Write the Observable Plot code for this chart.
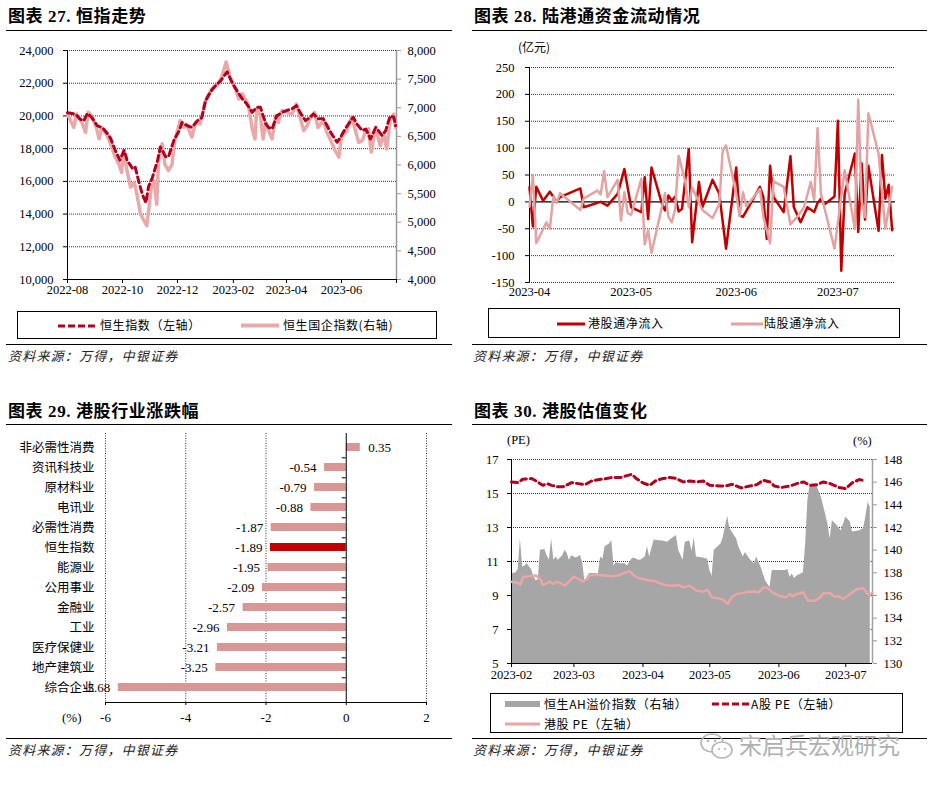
<!DOCTYPE html>
<html><head><meta charset="utf-8">
<script src="https://cdn.jsdelivr.net/npm/d3@7"></script>
<script src="https://cdn.jsdelivr.net/npm/@observablehq/plot@0.6"></script>
<style>
body{margin:0;background:#fff;}
#root{position:relative;width:930px;height:788px;overflow:hidden;font-family:'Liberation Serif','Noto Sans CJK SC',serif;color:#000;}
.title{position:absolute;font-size:17px;font-weight:bold;line-height:24px;white-space:nowrap;letter-spacing:0.6px;}
.rule{position:absolute;height:0;border-top:1.5px solid #000;}
.src{position:absolute;font-size:13px;font-style:italic;font-family:'Noto Sans CJK SC',sans-serif;color:#222;white-space:nowrap;letter-spacing:1.2px;line-height:16px;}
.plot{position:absolute;}
.legend{position:absolute;border:1px solid #000;box-sizing:border-box;}
.li{position:absolute;font-family:'Noto Sans CJK SC',sans-serif;font-size:12px;line-height:16px;white-space:nowrap;letter-spacing:0.6px;}
.sw{position:absolute;overflow:visible;}
.unit{position:absolute;font-size:12.5px;white-space:nowrap;line-height:14px;}
</style></head>
<body>
<div id="root">
  <div class="title" style="left:8px;top:5px;">图表 27. 恒指走势</div>
  <div class="title" style="left:474px;top:5px;">图表 28. 陆港通资金流动情况</div>
  <div class="title" style="left:8px;top:400px;">图表 29. 港股行业涨跌幅</div>
  <div class="title" style="left:474px;top:400px;">图表 30. 港股估值变化</div>
  <div class="rule" style="left:6px;top:30px;width:446px;"></div>
  <div class="rule" style="left:472px;top:30px;width:455px;"></div>
  <div class="rule" style="left:6px;top:424px;width:446px;"></div>
  <div class="rule" style="left:472px;top:424px;width:455px;"></div>
  <div class="rule" style="left:6px;top:344px;width:446px;"></div>
  <div class="rule" style="left:472px;top:344px;width:455px;"></div>
  <div class="rule" style="left:6px;top:738px;width:446px;"></div>
  <div class="rule" style="left:472px;top:738px;width:455px;"></div>
  <div class="src" style="left:8px;top:348px;">资料来源：万得，中银证券</div>
  <div class="src" style="left:473px;top:348px;">资料来源：万得，中银证券</div>
  <div class="src" style="left:8px;top:742px;">资料来源：万得，中银证券</div>
  <div class="src" style="left:473px;top:742px;">资料来源：万得，中银证券</div>

  <div class="unit" style="left:518px;top:40px;font-family:'Noto Sans CJK SC';font-size:12px;">(亿元)</div>
  <div class="unit" style="left:507px;top:433px;">(PE)</div>
  <div class="unit" style="left:853px;top:434px;">(%)</div>
  <div class="unit" style="left:62px;top:711px;font-size:13px;">(%)</div>

  <div id="p1" class="plot" style="left:0px;top:40px;"></div>
  <div id="p2" class="plot" style="left:465px;top:40px;"></div>
  <div id="p3" class="plot" style="left:0px;top:428px;"></div>
  <div id="p4" class="plot" style="left:465px;top:428px;"></div>

  <div class="legend" style="left:17px;top:311px;width:420px;height:28px;">
    <svg class="sw" style="left:40px;top:12px;" width="40" height="4"><line x1="0" y1="2" x2="40" y2="2" stroke="#b0001e" stroke-width="3" stroke-dasharray="7,3"/></svg>
    <div class="li" style="left:82px;top:5px;">恒生指数（左轴）</div>
    <svg class="sw" style="left:223px;top:11px;" width="38" height="5"><line x1="0" y1="2.5" x2="38" y2="2.5" stroke="#eaa9a9" stroke-width="4"/></svg>
    <div class="li" style="left:265px;top:5px;">恒生国企指数(右轴)</div>
  </div>

  <div class="legend" style="left:488px;top:308px;width:412px;height:30px;">
    <svg class="sw" style="left:68px;top:13px;" width="28" height="4"><line x1="0" y1="2" x2="28" y2="2" stroke="#c00000" stroke-width="3"/></svg>
    <div class="li" style="left:99px;top:6px;">港股通净流入</div>
    <svg class="sw" style="left:242px;top:13px;" width="32" height="4"><line x1="0" y1="2" x2="32" y2="2" stroke="#e3a3a3" stroke-width="3"/></svg>
    <div class="li" style="left:275px;top:6px;">陆股通净流入</div>
  </div>

  <div class="legend" style="left:490px;top:693px;width:413px;height:40px;">
    <svg class="sw" style="left:14px;top:7px;" width="35" height="6"><rect x="0" y="0" width="35" height="6" fill="#a6a6a6"/></svg>
    <div class="li" style="left:53px;top:2px;">恒生AH溢价指数（右轴）</div>
    <svg class="sw" style="left:221px;top:8px;" width="37" height="4"><line x1="0" y1="2" x2="37" y2="2" stroke="#b0001e" stroke-width="3" stroke-dasharray="7,3"/></svg>
    <div class="li" style="left:260px;top:2px;">A股 PE（左轴）</div>
    <svg class="sw" style="left:14px;top:28px;" width="35" height="4"><line x1="0" y1="2" x2="35" y2="2" stroke="#eaa5a5" stroke-width="3"/></svg>
    <div class="li" style="left:53px;top:22px;">港股 PE（左轴）</div>
  </div>

  <svg style="position:absolute;left:699px;top:731px;" width="36" height="30">
    <ellipse cx="13" cy="12" rx="11" ry="9" fill="none" stroke="#b5b5b5" stroke-width="1.6"/>
    <ellipse cx="23" cy="19" rx="10" ry="8" fill="#fff" stroke="#b5b5b5" stroke-width="1.6"/>
    <circle cx="9" cy="10" r="1.3" fill="#b5b5b5"/><circle cx="16" cy="10" r="1.3" fill="#b5b5b5"/>
    <circle cx="20" cy="18" r="1.1" fill="#b5b5b5"/><circle cx="26" cy="18" r="1.1" fill="#b5b5b5"/>
  </svg>
  <div style="position:absolute;left:739px;top:729px;font-family:'Noto Sans CJK SC';font-size:23px;color:#b0b0b0;white-space:nowrap;line-height:30px;">宋启兵宏观研究</div>
</div>

<script>
// ---------------- DATA ----------------
// Panel 27: 恒生指数 (left axis) and 恒生国企指数 (right axis)
const hsiDates = ["2022-08-01","2022-08-10","2022-08-15","2022-08-19","2022-08-23","2022-08-28","2022-09-03","2022-09-07","2022-09-10","2022-09-16","2022-09-18","2022-09-23","2022-09-28","2022-10-03","2022-10-06","2022-10-12","2022-10-15","2022-10-19","2022-10-23","2022-10-27","2022-10-30","2022-11-03","2022-11-09","2022-11-12","2022-11-18","2022-11-21","2022-11-27","2022-12-03","2022-12-06","2022-12-12","2022-12-17","2022-12-23","2022-12-28","2023-01-01","2023-01-07","2023-01-12","2023-01-18","2023-01-25","2023-01-31","2023-02-06","2023-02-11","2023-02-16","2023-02-22","2023-02-27","2023-03-03","2023-03-09","2023-03-12","2023-03-16","2023-03-21","2023-03-27","2023-04-01","2023-04-07","2023-04-12","2023-04-16","2023-04-22","2023-04-27","2023-05-01","2023-05-06","2023-05-12","2023-05-15","2023-05-21","2023-05-27","2023-05-31","2023-06-05","2023-06-10","2023-06-14","2023-06-18","2023-06-24","2023-06-28","2023-07-03","2023-07-09","2023-07-12","2023-07-16","2023-07-20","2023-07-25","2023-07-29","2023-07-31"];
const hsiValues = [20200,20100,19800,19700,20150,19900,19400,19300,19200,18800,18600,17900,17300,17900,17300,16800,16900,16000,15200,14700,15700,16200,17300,18100,17500,17500,18500,19100,19600,19400,19300,19700,19900,20900,21500,21850,22150,22700,22000,21450,21040,20730,20220,20530,20530,19510,19300,19200,20000,20220,20330,20430,20630,20220,19710,19920,20120,19820,19820,19510,18900,18390,18700,19200,19610,19920,19510,19100,19200,18590,19300,19100,18800,19100,20000,19920,19400];
const hsceiDates = ["2022-08-01","2022-08-08","2022-08-11","2022-08-17","2022-08-21","2022-08-24","2022-08-28","2022-09-02","2022-09-05","2022-09-08","2022-09-14","2022-09-19","2022-09-23","2022-09-27","2022-09-30","2022-10-02","2022-10-06","2022-10-10","2022-10-14","2022-10-17","2022-10-21","2022-10-25","2022-10-28","2022-10-30","2022-11-02","2022-11-05","2022-11-08","2022-11-10","2022-11-14","2022-11-17","2022-11-21","2022-11-25","2022-11-28","2022-12-04","2022-12-08","2022-12-11","2022-12-17","2022-12-21","2022-12-26","2023-01-01","2023-01-08","2023-01-14","2023-01-19","2023-01-24","2023-01-29","2023-02-04","2023-02-07","2023-02-11","2023-02-15","2023-02-18","2023-02-22","2023-02-25","2023-02-27","2023-03-03","2023-03-06","2023-03-09","2023-03-12","2023-03-16","2023-03-20","2023-03-23","2023-03-27","2023-04-01","2023-04-07","2023-04-12","2023-04-16","2023-04-20","2023-04-24","2023-04-27","2023-05-02","2023-05-06","2023-05-12","2023-05-15","2023-05-21","2023-05-25","2023-05-29","2023-06-01","2023-06-07","2023-06-12","2023-06-16","2023-06-20","2023-06-24","2023-06-28","2023-07-01","2023-07-04","2023-07-07","2023-07-10","2023-07-14","2023-07-18","2023-07-21","2023-07-25","2023-07-29","2023-07-31"];
const hsceiValues = [6890,6655,6890,6745,6570,6920,6855,6655,6455,6655,6515,6315,6135,6015,5870,6250,5900,5610,5695,5490,5145,5025,4940,5200,5610,5725,5315,6075,6370,6015,5900,6015,6425,6775,6655,6715,6485,6745,6715,7125,7330,7390,7535,7800,7505,7300,7155,7245,7125,7010,6630,6455,6980,6865,6455,6745,6600,6455,6865,6745,6950,6920,6890,7065,6835,6600,6690,6805,6920,6655,6775,6600,6395,6250,6135,6485,6600,6835,6630,6395,6425,6600,6630,6225,6515,6570,6335,6545,6280,6775,6890,6655];
const p1TickLabels = ["2022-08","2022-10","2022-12","2023-02","2023-04","2023-06"];

// Panel 28: 港股通 / 陆股通 net inflow (亿元)
const southDates = ["2023-04-01","2023-04-02","2023-04-03","2023-04-05","2023-04-07","2023-04-09","2023-04-10","2023-04-16","2023-04-17","2023-04-22","2023-04-24","2023-04-27","2023-04-29","2023-05-01","2023-05-04","2023-05-05","2023-05-06","2023-05-07","2023-05-10","2023-05-11","2023-05-12","2023-05-13","2023-05-14","2023-05-15","2023-05-16","2023-05-18","2023-05-19","2023-05-21","2023-05-22","2023-05-25","2023-05-27","2023-05-29","2023-06-01","2023-06-02","2023-06-03","2023-06-08","2023-06-09","2023-06-10","2023-06-11","2023-06-12","2023-06-15","2023-06-17","2023-06-18","2023-06-20","2023-06-22","2023-06-24","2023-06-25","2023-06-26","2023-06-27","2023-06-30","2023-07-01","2023-07-02","2023-07-03","2023-07-06","2023-07-07","2023-07-08","2023-07-09","2023-07-10","2023-07-13","2023-07-14","2023-07-15","2023-07-16","2023-07-17"];
const southValues = [27,-46,28,2,19,0,9,25,-10,0,-7,15,61,-10,-19,46,-32,64,-2,-16,12,2,10,-18,-13,98,-75,37,-10,41,15,-87,64,-25,-28,28,9,-69,67,9,-19,85,-10,-38,-10,-19,-2,6,-5,10,151,-128,15,90,-56,72,-33,67,-54,87,6,32,-53];
const northDates = ["2023-04-01","2023-04-02","2023-04-03","2023-04-06","2023-04-07","2023-04-08","2023-04-09","2023-04-10","2023-04-16","2023-04-17","2023-04-21","2023-04-22","2023-04-23","2023-04-24","2023-04-27","2023-04-28","2023-04-29","2023-04-30","2023-05-01","2023-05-04","2023-05-05","2023-05-06","2023-05-07","2023-05-11","2023-05-12","2023-05-13","2023-05-14","2023-05-15","2023-05-17","2023-05-18","2023-05-19","2023-05-22","2023-05-25","2023-05-27","2023-05-28","2023-05-29","2023-06-01","2023-06-02","2023-06-03","2023-06-04","2023-06-08","2023-06-09","2023-06-11","2023-06-12","2023-06-15","2023-06-17","2023-06-19","2023-06-21","2023-06-23","2023-06-24","2023-06-25","2023-06-26","2023-06-30","2023-07-03","2023-07-06","2023-07-07","2023-07-08","2023-07-09","2023-07-10","2023-07-13","2023-07-15","2023-07-17"];
const northValues = [-9,49,-77,-38,-50,9,-2,16,-15,6,21,14,57,9,41,-35,18,-21,-24,43,-79,-53,-95,16,-28,-38,-13,86,37,-10,27,-15,-30,-4,95,105,15,-27,18,-8,24,-28,-77,38,28,-42,-28,-10,37,4,137,15,-87,59,-50,190,2,-28,165,90,-50,28];
const p2TickLabels = ["2023-04","2023-05","2023-06","2023-07"];

// Panel 29: 港股行业涨跌幅 (%)
const industries = ["非必需性消费","资讯科技业","原材料业","电讯业","必需性消费","恒生指数","能源业","公用事业","金融业","工业","医疗保健业","地产建筑业","综合企业"];
const industryChanges = [0.35,-0.54,-0.79,-0.88,-1.87,-1.89,-1.95,-2.09,-2.57,-2.96,-3.21,-3.25,-5.68];
const p3Ticks = [-6,-4,-2,0,2];

// Panel 30: 港股估值变化
const aPeDates = ["2023-02-01","2023-02-04","2023-02-06","2023-02-10","2023-02-12","2023-02-15","2023-02-17","2023-02-19","2023-02-22","2023-02-24","2023-02-28","2023-03-03","2023-03-06","2023-03-09","2023-03-13","2023-03-15","2023-03-18","2023-03-22","2023-03-24","2023-03-27","2023-03-29","2023-04-01","2023-04-04","2023-04-07","2023-04-10","2023-04-13","2023-04-16","2023-04-19","2023-04-22","2023-04-25","2023-04-28","2023-05-01","2023-05-05","2023-05-08","2023-05-11","2023-05-15","2023-05-19","2023-05-22","2023-05-25","2023-05-28","2023-05-30","2023-06-02","2023-06-06","2023-06-09","2023-06-12","2023-06-15","2023-06-18","2023-06-21","2023-06-24","2023-06-28","2023-07-01","2023-07-04","2023-07-07","2023-07-10"];
const aPeValues = [15.68,15.64,15.84,15.88,15.74,15.48,15.58,15.48,15.39,15.39,15.64,15.58,15.52,15.74,15.84,15.86,15.94,15.94,16.02,16.13,15.88,15.62,15.48,15.78,15.88,15.94,15.88,15.68,15.74,15.68,15.74,15.48,15.44,15.44,15.54,15.33,15.44,15.52,15.78,15.68,15.44,15.35,15.44,15.58,15.68,15.48,15.52,15.68,15.58,15.35,15.29,15.64,15.82,15.74];
const hkPeDates = ["2023-02-01","2023-02-04","2023-02-05","2023-02-06","2023-02-08","2023-02-12","2023-02-14","2023-02-15","2023-02-17","2023-02-18","2023-02-20","2023-02-21","2023-02-23","2023-02-25","2023-02-26","2023-03-01","2023-03-03","2023-03-05","2023-03-07","2023-03-08","2023-03-12","2023-03-15","2023-03-18","2023-03-21","2023-03-23","2023-03-26","2023-03-28","2023-03-30","2023-04-01","2023-04-04","2023-04-06","2023-04-08","2023-04-11","2023-04-14","2023-04-17","2023-04-19","2023-04-22","2023-04-25","2023-04-28","2023-04-30","2023-05-02","2023-05-05","2023-05-07","2023-05-09","2023-05-11","2023-05-13","2023-05-16","2023-05-18","2023-05-21","2023-05-23","2023-05-25","2023-05-27","2023-05-29","2023-06-01","2023-06-04","2023-06-06","2023-06-07","2023-06-09","2023-06-12","2023-06-14","2023-06-17","2023-06-19","2023-06-21","2023-06-24","2023-06-26","2023-06-28","2023-06-30","2023-07-03","2023-07-06","2023-07-09","2023-07-11","2023-07-13"];
const hkPeValues = [9.81,9.74,9.64,10.07,10.11,10.17,9.97,9.62,9.72,9.81,9.68,9.81,9.72,9.58,9.72,10.11,9.97,9.83,9.97,10.21,10.21,10.17,10.13,10.17,10.31,10.43,10.17,10.03,9.97,9.87,9.87,9.74,9.62,9.58,9.62,9.48,9.58,9.28,9.24,9.32,8.89,8.83,8.75,8.50,8.93,9.09,9.15,9.22,9.24,9.18,9.48,9.44,9.18,8.99,8.89,9.09,8.95,9.09,9.18,8.69,8.69,8.83,9.13,9.13,8.93,8.95,8.79,9.09,9.38,9.42,9.05,9.13];
const ahDates = ["2023-02-01","2023-02-03","2023-02-04","2023-02-05","2023-02-06","2023-02-07","2023-02-08","2023-02-10","2023-02-11","2023-02-12","2023-02-13","2023-02-14","2023-02-16","2023-02-17","2023-02-18","2023-02-19","2023-02-20","2023-02-21","2023-02-22","2023-02-24","2023-02-25","2023-02-26","2023-02-27","2023-02-28","2023-03-02","2023-03-03","2023-03-04","2023-03-05","2023-03-06","2023-03-07","2023-03-08","2023-03-11","2023-03-12","2023-03-13","2023-03-14","2023-03-15","2023-03-17","2023-03-18","2023-03-19","2023-03-20","2023-03-22","2023-03-24","2023-03-25","2023-03-27","2023-03-28","2023-03-30","2023-03-31","2023-04-02","2023-04-03","2023-04-04","2023-04-06","2023-04-07","2023-04-10","2023-04-12","2023-04-14","2023-04-16","2023-04-17","2023-04-19","2023-04-20","2023-04-22","2023-04-23","2023-04-24","2023-04-25","2023-04-28","2023-04-30","2023-05-01","2023-05-02","2023-05-03","2023-05-06","2023-05-07","2023-05-09","2023-05-10","2023-05-13","2023-05-14","2023-05-16","2023-05-17","2023-05-19","2023-05-21","2023-05-22","2023-05-24","2023-05-26","2023-05-28","2023-05-29","2023-05-31","2023-06-04","2023-06-05","2023-06-06","2023-06-07","2023-06-08","2023-06-09","2023-06-12","2023-06-13","2023-06-14","2023-06-15","2023-06-18","2023-06-20","2023-06-21","2023-06-23","2023-06-24","2023-06-25","2023-06-27","2023-06-29","2023-07-01","2023-07-03","2023-07-04","2023-07-07","2023-07-09","2023-07-10","2023-07-11","2023-07-12"];
const ahValues = [137.9,138.0,138.3,141.0,138.5,138.6,138.8,138.3,137.7,137.3,137.4,140.0,140.05,139.5,139.1,141.0,139.1,139.4,139.1,139.5,140.0,139.7,139.1,139.5,139.3,139.4,139.55,138.8,137.15,137.6,137.95,137.95,137.9,139.4,139.2,140.3,140.55,140.85,138.6,138.9,138.8,138.8,138.6,139.2,139.3,139.1,139.1,139.4,140.3,139.4,140.9,140.85,140.8,140.7,141.0,141.3,140.0,139.1,140.7,140.8,139.9,141.1,139.4,139.3,139.2,138.2,137.7,140.0,140.55,141.1,143.0,141.9,141.0,140.3,139.4,139.8,139.2,138.8,139.4,138.5,137.3,136.7,138.2,138.2,138.2,138.3,137.6,137.9,137.5,137.7,138.0,140.55,144.4,145.7,145.7,144.7,143.95,142.3,141.0,142.6,142.2,141.7,142.9,142.5,141.6,141.7,141.9,142.9,144.2,143.8];
const p4TickLabels = ["2023-02","2023-03","2023-04","2023-05","2023-06","2023-07"];

// ---------------- HELPERS ----------------
const parse = d3.utcParse("%Y-%m-%d");
const zip = (ds, vs) => ds.map((d, i) => ({date: parse(d), v: vs[i]}));
const fmtMonth = d3.utcFormat("%Y-%m");
const NUMFONT = "'Liberation Serif','Noto Sans CJK SC',serif";
const CJKFONT = "'Noto Sans CJK SC',sans-serif";
const baseStyle = {fontFamily: NUMFONT, fontSize: "12.5px", color: "#000", background: "transparent", overflow: "visible"};
const dotted = {stroke: "#333", strokeOpacity: 1, strokeWidth: 1, strokeDasharray: "1,1"};
const monthTicks = labels => labels.map(s => parse(s + "-01"));

// ---------------- PANEL 27 ----------------
{
  const yL = [10000, 24000], yR = [4000, 8000];
  const r2l = v => yL[0] + (v - yR[0]) * (yL[1] - yL[0]) / (yR[1] - yR[0]);
  const l2r = v => yR[0] + (v - yL[0]) * (yR[1] - yR[0]) / (yL[1] - yL[0]);
  const xDom = [parse("2022-08-01"), parse("2023-08-01")];
  const hsi = zip(hsiDates, hsiValues);
  const hscei = zip(hsceiDates, hsceiValues);
  const leftTicks = d3.range(yL[0], yL[1] + 1, 2000);
  const rightTicks = d3.range(yR[0], yR[1] + 1, 500);
  const xt = monthTicks(p1TickLabels);
  const fmt = d3.format(",");
  const p = Plot.plot({
    width: 460, height: 265, marginLeft: 67, marginRight: 64, marginTop: 10, marginBottom: 26,
    style: baseStyle,
    x: {type: "utc", domain: xDom, label: null},
    y: {domain: yL, label: null},
    marks: [
      Plot.gridY(leftTicks.slice(1), dotted),
      Plot.ruleY([yL[0]], {stroke: "#000"}),
      Plot.ruleX([xDom[0]], {stroke: "#000"}),
      Plot.ruleX([xDom[1]], {stroke: "#999", strokeWidth: 1.5}),
      Plot.axisY(leftTicks, {anchor: "left", label: null, tickSize: 4, tickPadding: 10, tickFormat: fmt}),
      Plot.axisY(rightTicks.map(r2l), {anchor: "right", label: null, tickSize: 4, tickPadding: 7, stroke: "#999", tickFormat: d => fmt(Math.round(l2r(d)))}),
      Plot.axisX(xt, {anchor: "bottom", label: null, tickSize: 4, tickPadding: 2, tickFormat: fmtMonth}),
      Plot.axisX([xDom[1]], {anchor: "bottom", label: null, tickSize: 4, tickFormat: () => ""}),
      Plot.line(hscei, {x: "date", y: d => r2l(d.v), stroke: "#eaa9a9", strokeWidth: 3.5}),
      Plot.line(hsi, {x: "date", y: "v", stroke: "#b0001e", strokeWidth: 3, strokeDasharray: "6,4"})
    ]
  });
  document.getElementById("p1").appendChild(p);
}

// ---------------- PANEL 28 ----------------
{
  const xDom = [parse("2023-04-01"), parse("2023-07-18")];
  const south = zip(southDates, southValues);
  const north = zip(northDates, northValues);
  const yt = d3.range(-150, 251, 50);
  const p = Plot.plot({
    width: 465, height: 265, marginLeft: 64, marginRight: 35, marginTop: 27, marginBottom: 23,
    style: baseStyle,
    x: {type: "utc", domain: xDom, label: null},
    y: {domain: [-150, 250], label: null},
    marks: [
      Plot.gridY(yt.filter(d => d !== 0), dotted),
      Plot.ruleY([0], {stroke: "#000", strokeWidth: 1.2}),
      Plot.ruleX([xDom[0]], {stroke: "#000"}),
      Plot.axisY(yt, {anchor: "left", label: null, tickSize: 4, tickPadding: 11, tickFormat: d => d < 0 ? "-" + Math.abs(d) : String(d)}),
      Plot.axisX(monthTicks(p2TickLabels), {anchor: "bottom", label: null, tickSize: 0, tickPadding: 5, tickFormat: fmtMonth}),
      Plot.line(south, {x: "date", y: "v", stroke: "#c00000", strokeWidth: 2.5}),
      Plot.line(north, {x: "date", y: "v", stroke: "#e3a3a3", strokeWidth: 2.5})
    ]
  });
  document.getElementById("p2").appendChild(p);
}

// ---------------- PANEL 29 ----------------
{
  const data = industries.map((n, i) => ({name: n, v: industryChanges[i]}));
  const p = Plot.plot({
    width: 460, height: 300, marginLeft: 105, marginRight: 34, marginTop: 5, marginBottom: 26,
    style: {...baseStyle, fontSize: "13px"},
    x: {domain: [-6, 2], label: null},
    y: {type: "band", domain: industries, paddingInner: 0.58, paddingOuter: 0.3, label: null},
    color: {type: "identity"},
    marks: [
      Plot.gridX(p3Ticks.filter(d => d !== 0), {...dotted, strokeDasharray: "1,1.5"}),
      Plot.barX(data, {x: "v", y: "name", fill: d => d.name === "恒生指数" ? "#c00000" : "#d99694"}),
      Plot.ruleX([0], {stroke: "#000"}),
      Plot.ruleY(industries.slice(0, -1), {x1: -0.1, x2: 0, dy: 10.3, stroke: "#000"}),
      Plot.frame({anchor: "bottom", stroke: "#000"}),
      Plot.axisX(p3Ticks, {anchor: "bottom", label: null, tickSize: 3, tickPadding: 7, tickFormat: d => String(d)}),
      Plot.axisY({anchor: "left", label: null, tickSize: 0, tickPadding: 11, fontFamily: CJKFONT, fontSize: 12.5}),
      Plot.text(data.filter(d => d.v < 0), {x: "v", y: "name", text: d => d.v.toFixed(2), textAnchor: "end", dx: -8, fontSize: 13}),
      Plot.text(data.filter(d => d.v >= 0), {x: "v", y: "name", text: d => d.v.toFixed(2), textAnchor: "start", dx: 8, fontSize: 13})
    ]
  });
  document.getElementById("p3").appendChild(p);
}

// ---------------- PANEL 30 ----------------
{
  const yL = [5, 17], yR = [130, 148];
  const r2l = v => yL[0] + (v - yR[0]) * (yL[1] - yL[0]) / (yR[1] - yR[0]);
  const l2r = v => yR[0] + (v - yL[0]) * (yR[1] - yR[0]) / (yL[1] - yL[0]);
  const xDom = [parse("2023-02-01"), parse("2023-07-13")];
  const ape = zip(aPeDates, aPeValues);
  const hkpe = zip(hkPeDates, hkPeValues);
  const ah = zip(ahDates, ahValues);
  const leftTicks = d3.range(5, 18, 2);
  const rightTicks = d3.range(130, 149, 2);
  const p = Plot.plot({
    width: 465, height: 260, marginLeft: 46, marginRight: 58, marginTop: 31, marginBottom: 25,
    style: baseStyle,
    x: {type: "utc", domain: xDom, label: null},
    y: {domain: yL, label: null},
    marks: [
      Plot.gridY(leftTicks.slice(1), dotted),
      Plot.areaY(ah, {x: "date", y1: yL[0], y2: d => r2l(d.v), fill: "#a6a6a6"}),
      Plot.ruleY([yL[0]], {stroke: "#000"}),
      Plot.ruleX([xDom[0]], {stroke: "#000"}),
      Plot.ruleX([xDom[1]], {stroke: "#a0a0a0", strokeWidth: 1.5}),
      Plot.axisY(leftTicks, {anchor: "left", label: null, tickSize: 4, tickPadding: 9, tickFormat: d => String(d)}),
      Plot.axisY(rightTicks.map(r2l), {anchor: "right", label: null, tickSize: 4, tickPadding: 7, stroke: "#999", tickFormat: d => String(Math.round(l2r(d)))}),
      Plot.axisX(monthTicks(p4TickLabels), {anchor: "bottom", label: null, tickSize: 4, tickPadding: 3, tickFormat: fmtMonth}),
      Plot.line(hkpe, {x: "date", y: "v", stroke: "#eaa5a5", strokeWidth: 2.5}),
      Plot.line(ape, {x: "date", y: "v", stroke: "#b0001e", strokeWidth: 3, strokeDasharray: "6,4"})
    ]
  });
  document.getElementById("p4").appendChild(p);
}
</script>
</body></html>
